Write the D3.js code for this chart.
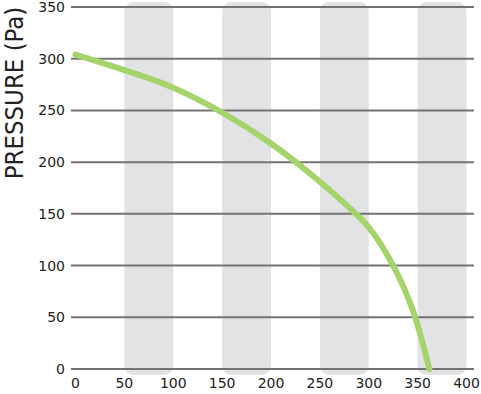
<!DOCTYPE html>
<html>
<head>
<meta charset="utf-8">
<script src="https://cdn.jsdelivr.net/npm/d3@7"></script>
<style>
  body { margin: 0; background: #fff; }
  svg { display: block; font-family: "DejaVu Sans", sans-serif; }
</style>
</head>
<body>
<svg id="chart"></svg>
<script>
// Fan curve: flow vs pressure
const flow = [0, 50, 100, 150, 200, 250, 300, 325, 345, 362];
const pressure = [304, 289, 272, 248, 218, 181, 137, 100, 57, 0];
const yTicks = [0, 50, 100, 150, 200, 250, 300, 350];
const xTicks = [0, 50, 100, 150, 200, 250, 300, 350, 400];
const bands = [[50, 100], [150, 200], [250, 300], [350, 400]]; // shaded columns

const W = 481, H = 394;

const svg = d3.select("#chart")
  .attr("width", W)
  .attr("height", H);

const x = d3.scaleLinear().domain([0, 400]).range([75.5, 466.5]);
const y = d3.scaleLinear().domain([0, 350]).range([369, 7]);

// gray columns
svg.append("g")
  .selectAll("rect")
  .data(bands)
  .enter().append("rect")
  .attr("x", d => x(d[0]))
  .attr("width", d => x(d[1]) - x(d[0]))
  .attr("y", 2)
  .attr("height", 373)
  .attr("rx", 9)
  .attr("fill", "#e2e3e5");

// horizontal grid lines
svg.append("g")
  .selectAll("line")
  .data(yTicks)
  .enter().append("line")
  .attr("x1", 71)
  .attr("x2", 474)
  .attr("y1", d => y(d))
  .attr("y2", d => y(d))
  .attr("stroke", "#737373")
  .attr("stroke-width", 2);

// y tick labels
svg.append("g")
  .selectAll("text")
  .data(yTicks)
  .enter().append("text")
  .attr("x", 65)
  .attr("y", d => y(d))
  .attr("dy", "0.36em")
  .attr("text-anchor", "end")
  .attr("font-size", 14)
  .attr("fill", "#222")
  .text(d => d);

// x tick labels
svg.append("g")
  .selectAll("text")
  .data(xTicks)
  .enter().append("text")
  .attr("x", d => x(d))
  .attr("y", 388)
  .attr("text-anchor", "middle")
  .attr("font-size", 14)
  .attr("fill", "#222")
  .text(d => d);

// y axis title
svg.append("text")
  .attr("transform", "translate(23,93) rotate(-90)")
  .attr("text-anchor", "middle")
  .style("font-family", "'DejaVu Sans Condensed', 'DejaVu Sans', sans-serif")
  .attr("font-size", 25.5)
  .attr("fill", "#222")
  .text("PRESSURE (Pa)");

// curve
const line = d3.line()
  .x((d, i) => x(flow[i]))
  .y(d => y(d))
  .curve(d3.curveCatmullRom.alpha(0.5));

svg.append("path")
  .datum(pressure)
  .attr("d", line)
  .attr("fill", "none")
  .attr("stroke", "#a6d46c")
  .attr("stroke-width", 6)
  .attr("stroke-linecap", "round");
</script>
</body>
</html>
